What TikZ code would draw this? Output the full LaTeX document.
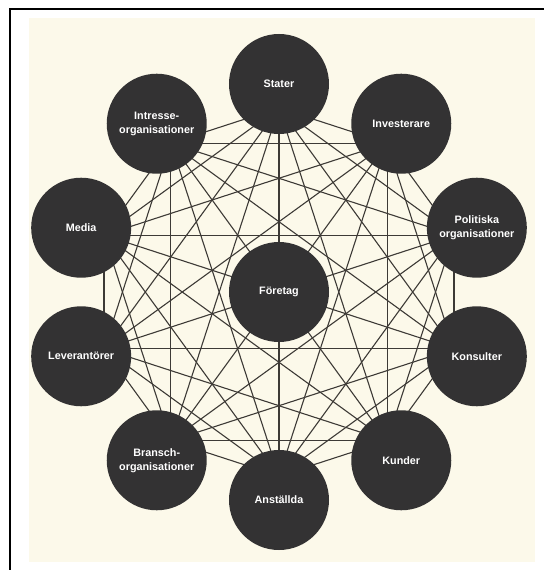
\documentclass[tikz,border=0pt]{standalone}
\usepackage{fontspec}
\setmainfont{Liberation Sans}
\usetikzlibrary{calc,backgrounds}
\definecolor{inkring}{HTML}{333233}
\definecolor{inkedge}{HTML}{3D3A36}
\definecolor{paper}{HTML}{FCF9EA}
\pgfdeclarelayer{sheet}
\pgfsetlayers{sheet,background,main}
\tikzset{
  ring/.style={circle, fill=inkring, text=white, minimum size=100pt, inner sep=0pt, align=center,
    font=\fontsize{10.8}{14}\selectfont\bfseries},
  edge/.style={draw=inkedge, line width=1.1pt},
  frame/.style={draw=black, line width=2pt},
}

\begin{document}
\begin{tikzpicture}[x=1pt, y=1pt]
    \useasboundingbox (-279,-278) rectangle (265,292);
    \begin{pgfonlayer}{sheet}
      \fill[white] (-279,-278) rectangle (265,292);
      \fill[paper] (-250,-270) rectangle (256,274);
      \draw[frame] (-269,-278) -- (-269,283) -- (265,283);
    \end{pgfonlayer}
    \node[ring] (f) at (0,0) {Företag};
    \node[ring] (o1) at (90:208) {Stater};
    \node[ring] (o2) at (54:208) {Investerare};
    \node[ring] (o3) at (18:208) {Politiska\\organisationer};
    \node[ring] (o4) at (-18:208) {Konsulter};
    \node[ring] (o5) at (-54:208) {Kunder};
    \node[ring] (o6) at (-90:208) {Anställda};
    \node[ring] (o7) at (-126:208) {Bransch-\\organisationer};
    \node[ring] (o8) at (-162:208) {Leverantörer};
    \node[ring] (o9) at (162:208) {Media};
    \node[ring] (o10) at (126:208) {Intresse-\\organisationer};
    % every outer circle is tied to every other one
    \begin{pgfonlayer}{background}
      \foreach \i in {1,...,9} {
        \pgfmathtruncatemacro{\k}{\i+1}
        \foreach \j in {\k,...,10}
          \draw[edge] ($(o\i.center)!24pt!(f.center)$) -- ($(o\j.center)!24pt!(f.center)$);
      }
    \end{pgfonlayer}
  \end{tikzpicture}
\end{document}
